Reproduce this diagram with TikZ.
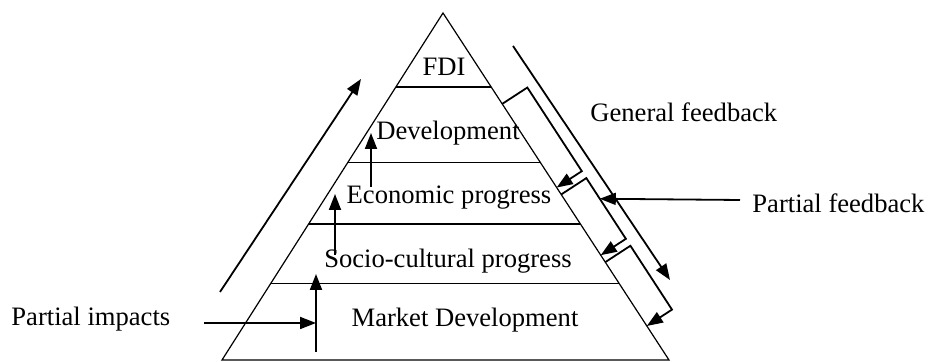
\documentclass[tikz,border=0pt]{standalone}
\usepackage{fontspec}
\setmainfont{Liberation Serif}
\usetikzlibrary{arrows.meta,calc}
\begin{document}
\begin{tikzpicture}[x=0.5pt, y=-0.5pt, font=\fontsize{13.3}{16}\selectfont,
          >={Triangle[length=8pt,width=6pt]},
          edge/.style={draw, line width=0.6pt},
          layer/.style={draw, line width=0.75pt},
          lbl/.style={inner sep=0pt, anchor=base},
          arr/.style={->, line width=0.9pt}]
        \useasboundingbox (0,0) rectangle (928,362);
        % pyramid and layers
        \coordinate (top) at (443,13);
        \coordinate (bl) at (222,360);
        \coordinate (br) at (669,360);
        \draw[edge] (bl) -- (top) -- (br) -- cycle;
        \foreach \t in {0.213,0.431,0.608,0.779} {
          \draw[layer] ($(top)!\t!(bl)$) -- ($(top)!\t!(br)$);
        }
        \node[lbl] (fdi) at (444,76) {FDI};
        \node[lbl] (dev) at (448,140) {Development};
        \node[lbl] (econ) at (449,204) {Economic progress};
        \node[lbl] (socio) at (448,268) {Socio-cultural progress};
        \node[lbl] (market) at (465,327) {Market Development};
        \node[lbl, anchor=base west] (impacts) at (11,326) {Partial impacts};
        \node[lbl, anchor=base west] (general) at (590,122) {General feedback};
        \node[lbl, anchor=base west] (partial) at (752,213) {Partial feedback};
        % upward arrows
        \coordinate (up0) at (220,292);   \coordinate (up1) at (361,79);
        \coordinate (dv0) at (371,187);   \coordinate (dv1) at (371,133);
        \coordinate (ec0) at (335,255);   \coordinate (ec1) at (335,194);
        \coordinate (sc0) at (316,352);   \coordinate (sc1) at (316,274);
        \coordinate (im0) at (204,323);   \coordinate (im1) at (316,323);
        \draw[arr] (up0) -- (up1);
        \draw[arr] (dv0) -- (dv1);
        \draw[arr] (ec0) -- (ec1);
        \draw[arr] (sc0) -- (sc1);
        \draw[arr] (im0) -- (im1);
        % feedback loops
        \coordinate (gf0) at (513,46);   \coordinate (gf1) at (670,280);
        \draw[arr] (gf0) -- (gf1);
        \foreach \s/\e [count=\k] in {0.262/0.503,0.523/0.698,0.718/0.902} {
          \coordinate (s\k) at ($(top)!\s!(br)$);
          \coordinate (e\k) at ($(top)!\e!(br)$);
          \coordinate (u\k) at ($(s\k)!15pt!90:(br)$);
          \coordinate (v\k) at ($(e\k)!15pt!90:(br)$);
          \draw[arr] (s\k) -- (u\k) -- (v\k) -- (e\k);
        }
        \coordinate (pf0) at (740,200);
        \coordinate (pf1) at ($(u2)!0.34!(v2)$);
        \draw[arr] (pf0) -- (pf1);
      \end{tikzpicture}
\end{document}
